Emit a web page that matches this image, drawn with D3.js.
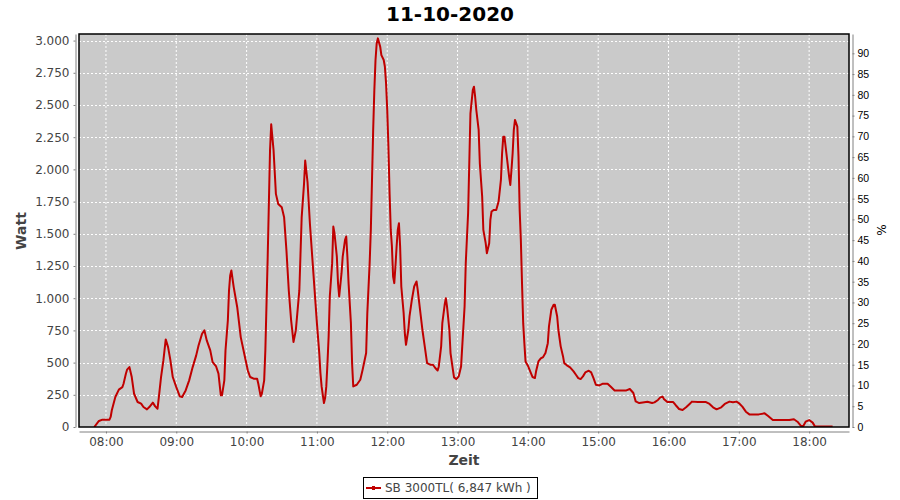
<!DOCTYPE html>
<html>
<head>
<meta charset="utf-8">
<script src="https://cdn.jsdelivr.net/npm/d3@7"></script>
<style>
  body { margin: 0; background: #ffffff; }
  svg { display: block; font-family: "DejaVu Sans", sans-serif; }
</style>
</head>
<body>
<svg id="chart" width="900" height="500"></svg>
<script>
// readings of the day (time, watt)
let times = ["07:50","07:54","07:57","08:03","08:04","08:05","08:08","08:11","08:14","08:15","08:17","08:18","08:20","08:22","08:24","08:27","08:30","08:32","08:35","08:37","08:40","08:42","08:44","08:45","08:47","08:49","08:51","08:53","08:55","08:57",
  "09:00","09:03","09:05","09:08","09:11","09:14","09:17","09:19","09:22","09:24","09:26","09:29","09:31","09:34","09:36","09:38","09:39","09:41","09:42","09:44","09:45","09:46","09:47","09:49","09:52","09:55","09:58",
  "10:01","10:03","10:06","10:09","10:10","10:12","10:13","10:15","10:16","10:18","10:19","10:20","10:21","10:23","10:25","10:27","10:30","10:32","10:34","10:36","10:38","10:40","10:42","10:45","10:47","10:49","10:50","10:52","10:54","10:56","10:58",
  "11:00","11:02","11:03","11:04","11:06","11:07","11:08","11:09","11:10","11:11","11:13","11:14","11:15","11:17","11:18","11:19","11:21","11:22","11:24","11:25","11:26","11:27","11:29","11:30","11:31","11:34","11:37","11:39","11:42","11:43","11:45","11:46","11:47","11:48","11:49","11:50","11:51","11:52","11:54","11:55","11:57","11:58","11:59",
  "12:00","12:01","12:02","12:03","12:04","12:05","12:06","12:07","12:08","12:09","12:10","12:11","12:12","12:14","12:15","12:16","12:18","12:19","12:21","12:23","12:25","12:26","12:28","12:30","12:32","12:34","12:37","12:39","12:41","12:43","12:44","12:46","12:47","12:49","12:50","12:51","12:53","12:54","12:56","12:57","12:59",
  "13:01","13:03","13:04","13:06","13:07","13:09","13:10","13:11","13:13","13:14","13:15","13:16","13:18","13:19","13:21","13:22","13:24","13:25","13:27","13:28","13:29","13:31","13:33","13:35","13:37","13:38","13:39","13:40","13:42","13:44","13:45","13:46","13:47","13:48","13:49","13:51","13:52","13:53","13:54","13:55","13:56","13:57","13:58",
  "14:00","14:02","14:04","14:06","14:07","14:09","14:11","14:13","14:15","14:17","14:18","14:20","14:22","14:23","14:25","14:26","14:28","14:30","14:31","14:33","14:36","14:39","14:41","14:43","14:45","14:47","14:49","14:52","14:54","14:56","14:58",
  "15:01","15:04","15:08","15:11","15:14","15:18","15:24","15:27","15:30","15:32","15:35","15:38","15:42","15:46","15:48","15:51","15:53","15:55","15:56","15:59",
  "16:04","16:06","16:09","16:12","16:15","16:18","16:20","16:25","16:29","16:32","16:35","16:38","16:41","16:45","16:48","16:52","16:55","16:58",
  "17:00","17:03","17:06","17:09","17:13","17:17","17:22","17:25","17:29","17:33","17:37","17:43","17:47","17:50","17:53","17:55","17:57",
  "18:00","18:03","18:05","18:09","18:20"];
let watts = [0,47,57,57,78,130,233,290,310,336,414,445,465,388,258,194,181,155,137,155,189,160,142,220,388,517,680,620,517,388,
  310,238,233,284,362,465,556,633,724,750,672,595,504,470,414,246,246,362,595,827,1060,1176,1215,1086,930,698,569,
  440,388,375,375,336,238,258,362,595,1318,1732,2150,2350,2150,1810,1732,1706,1629,1370,1060,827,660,750,1060,1629,1887,2068,1900,1582,1323,1065,
  806,574,419,315,186,225,315,496,703,1013,1272,1556,1504,1323,1117,1013,1194,1323,1453,1479,1323,1117,806,496,315,328,367,445,574,884,1272,1530,1918,2306,2616,2849,2978,3017,2952,2887,2849,2797,2668,
  2461,2177,1815,1530,1401,1168,1117,1246,1401,1530,1582,1401,1091,884,729,638,755,858,987,1091,1130,1065,910,755,626,496,483,483,458,439,470,626,806,949,1000,936,755,574,445,385,372,
  393,470,626,936,1272,1660,2047,2435,2616,2642,2564,2461,2306,2047,1789,1530,1427,1349,1427,1608,1673,1685,1685,1750,1918,2125,2254,2254,2099,1944,1879,1996,2125,2306,2384,2332,2099,1685,1453,1117,806,651,509,
  476,432,388,380,432,509,532,543,574,651,781,910,949,949,858,755,626,548,496,481,463,432,406,380,372,393,424,437,424,380,328,
  323,336,336,310,284,284,284,295,264,199,186,191,196,186,191,210,230,236,218,194,
  194,171,140,132,153,179,197,194,194,194,179,153,137,153,179,197,192,197,
  186,158,119,98,98,98,106,85,54,54,54,54,60,41,8,8,41,
  54,34,3,3,3];

let title = "11-10-2020";
let legend_label = "SB 3000TL( 6,847 kWh )";
let watt_ticks = [0,250,500,750,1000,1250,1500,1750,2000,2250,2500,2750,3000];
let percent_ticks = [0,5,10,15,20,25,30,35,40,45,50,55,60,65,70,75,80,85,90];
let x_start = "07:37", x_end = "18:34";

let parse_time = d3.timeParse("%Y-%m-%d %H:%M");
let day = "2020-10-11 ";
let data = times.map((t, i) => ({ t: parse_time(day + t), w: watts[i] }));

let plot_left = 79, plot_right = 849, plot_top = 34, plot_bottom = 427;

let svg = d3.select("#chart");

let x = d3.scaleTime()
  .domain([parse_time(day + x_start), parse_time(day + x_end)])
  .range([plot_left, plot_right]);
let y = d3.scaleLinear()
  .domain([0, 3051])
  .range([plot_bottom, plot_top]);
let y_pct = d3.scaleLinear()
  .domain([0, 94.65])
  .range([plot_bottom, plot_top]);

let de = d3.formatLocale({ decimal: ",", thousands: ".", grouping: [3], currency: ["", ""] });
let fmt_watt = de.format(",.0f");

// title
svg.append("text")
   .attr("x", 450)
   .attr("y", 21)
   .attr("text-anchor", "middle")
   .attr("font-size", 20)
   .attr("font-weight", "bold")
   .attr("fill", "#000")
   .text(title);

// plot background
svg.append("rect")
   .attr("x", plot_left)
   .attr("y", plot_top)
   .attr("width", plot_right - plot_left)
   .attr("height", plot_bottom - plot_top)
   .attr("fill", "#cacaca");

// grid
let hours = x.ticks(d3.timeHour.every(1));
svg.append("g")
   .selectAll("line")
   .data(hours)
   .join("line")
   .attr("x1", d => x(d)).attr("x2", d => x(d))
   .attr("y1", plot_top).attr("y2", plot_bottom)
   .attr("stroke", "#fff").attr("stroke-width", 1).attr("stroke-dasharray", "2,2");
svg.append("g")
   .selectAll("line")
   .data(watt_ticks.filter(d => d > 0))
   .join("line")
   .attr("x1", plot_left).attr("x2", plot_right)
   .attr("y1", d => Math.round(y(d)) + 0.5).attr("y2", d => Math.round(y(d)) + 0.5)
   .attr("stroke", "#fff").attr("stroke-width", 1).attr("stroke-dasharray", "2,2");

// the line
svg.append("clipPath")
   .attr("id", "plot_clip")
   .append("rect")
   .attr("x", plot_left).attr("y", plot_top)
   .attr("width", plot_right - plot_left).attr("height", plot_bottom - plot_top);
svg.append("path")
   .datum(data)
   .attr("clip-path", "url(#plot_clip)")
   .attr("fill", "none")
   .attr("stroke", "#c00000")
   .attr("stroke-width", 2)
   .attr("stroke-linejoin", "round")
   .attr("d", d3.line().x(d => x(d.t)).y(d => y(d.w)));

// plot border
svg.append("rect")
   .attr("x", plot_left)
   .attr("y", plot_top)
   .attr("width", plot_right - plot_left)
   .attr("height", plot_bottom - plot_top)
   .attr("fill", "none")
   .attr("stroke", "#000")
   .attr("stroke-width", 1.5);

// left axis
let ax_left = svg.append("g")
  .attr("transform", "translate(75.5,0)")
  .call(d3.axisLeft(y).tickValues(watt_ticks).tickFormat(fmt_watt).tickSize(2).tickSizeOuter(0).tickPadding(4));
ax_left.select(".domain").attr("stroke", "#808080");
ax_left.selectAll(".tick line").attr("stroke", "#808080");
ax_left.selectAll("text").attr("font-size", 12).attr("fill", "#444").attr("font-family", "DejaVu Sans");

// right axis
let ax_right = svg.append("g")
  .attr("transform", "translate(852.5,0)")
  .call(d3.axisRight(y_pct).tickValues(percent_ticks).tickSize(2).tickSizeOuter(0).tickPadding(3));
ax_right.select(".domain").attr("stroke", "#808080");
ax_right.selectAll(".tick line").attr("stroke", "#808080");
ax_right.selectAll("text").attr("font-size", 10.5).attr("fill", "#000").attr("font-family", "Liberation Sans");

// bottom axis
let ax_bottom = svg.append("g")
  .attr("transform", "translate(0,431.5)")
  .call(d3.axisBottom(x).ticks(d3.timeHour.every(1)).tickFormat(d3.timeFormat("%H:%M")).tickSize(2).tickSizeOuter(0).tickPadding(4));
ax_bottom.select(".domain").attr("stroke", "#808080");
ax_bottom.selectAll(".tick line").attr("stroke", "#808080");
ax_bottom.selectAll("text").attr("font-size", 12).attr("fill", "#444").attr("font-family", "DejaVu Sans");

// axis titles
svg.append("text")
   .attr("transform", "translate(20.5,231) rotate(-90)")
   .attr("text-anchor", "middle")
   .attr("dominant-baseline", "central")
   .attr("font-size", 14)
   .attr("font-weight", "bold")
   .attr("fill", "#444")
   .text("Watt");
svg.append("text")
   .attr("transform", "translate(882,230) rotate(-90)")
   .attr("text-anchor", "middle")
   .attr("dominant-baseline", "central")
   .attr("font-size", 12)
   .attr("fill", "#000")
   .text("%");
svg.append("text")
   .attr("x", (plot_left + plot_right) / 2)
   .attr("y", 465)
   .attr("text-anchor", "middle")
   .attr("font-size", 14)
   .attr("font-weight", "bold")
   .attr("fill", "#444")
   .text("Zeit");

// legend
let legend = svg.append("g");
legend.append("rect")
      .attr("x", 363.5).attr("y", 477.5)
      .attr("width", 174).attr("height", 21)
      .attr("fill", "#fff").attr("stroke", "#000").attr("stroke-width", 1);
legend.append("line")
      .attr("x1", 366).attr("x2", 381)
      .attr("y1", 488).attr("y2", 488)
      .attr("stroke", "#c00000").attr("stroke-width", 2);
legend.append("rect")
      .attr("x", 372).attr("y", 486)
      .attr("width", 3).attr("height", 4)
      .attr("fill", "#c00000");
legend.append("text")
      .attr("x", 385).attr("y", 488)
      .attr("dominant-baseline", "central")
      .attr("font-size", 12)
      .attr("fill", "#444")
      .text(legend_label);
</script>
</body>
</html>
